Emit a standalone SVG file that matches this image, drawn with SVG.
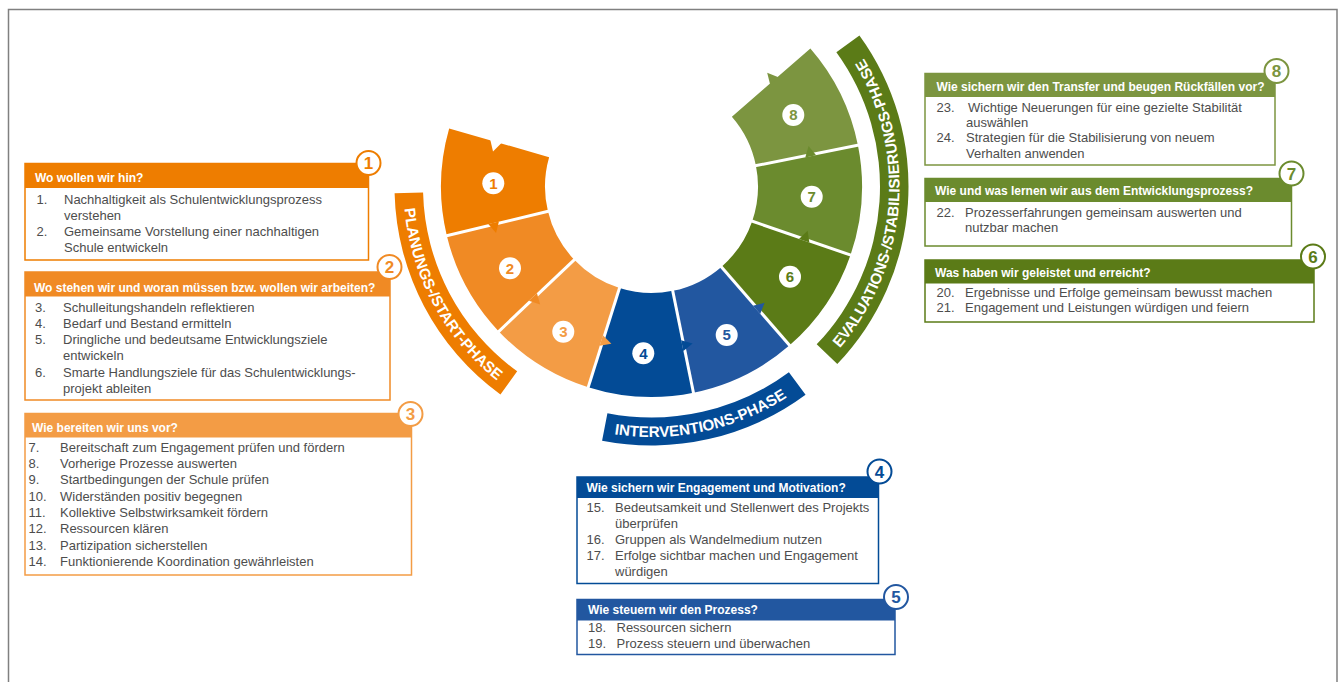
<svg xmlns="http://www.w3.org/2000/svg" width="1340" height="682" viewBox="0 0 1340 682">
  <style>
    .hd{font:bold 12px "Liberation Sans",Arial,sans-serif;fill:#fff}
    .tx{font:13px "Liberation Sans",Arial,sans-serif;fill:#4d4d4d}
    .box{fill:#fff;stroke-width:1.5}
    .badge{fill:#fff;stroke-width:2}
    .bn{font:bold 17px "Liberation Sans",Arial,sans-serif;text-anchor:middle}
    .sn{font:bold 15px "Liberation Sans",Arial,sans-serif;text-anchor:middle}
    .dot{fill:#fff}
    .ph{font:bold 15.2px "Liberation Sans",Arial,sans-serif;fill:#fff}
    .sep line{stroke:#fff;stroke-width:3}
    .c1{fill:#EE7D00}.c2{fill:#F08A24}.c3{fill:#F39C45}.c4{fill:#034B96}
    .c5{fill:#2257A0}.c6{fill:#5B7B17}.c7{fill:#6B8B2E}.c8{fill:#7C9540}
    .s1{stroke:#EE7D00}.s2{stroke:#F08A24}.s3{stroke:#F39C45}.s4{stroke:#034B96}
    .s5{stroke:#2257A0}.s6{stroke:#5B7B17}.s7{stroke:#6B8B2E}.s8{stroke:#7C9540}
  </style>
  <defs>
    <!-- arrow tab at a ring boundary, in a frame rotated to the boundary angle -->
    <polygon id="tab" points="156.5,1.6 167.5,1.6 162,-9"/>
    <path id="arcPlan" d="M403.61,179.14 A248,248 0 0 0 521.18,397.50"/>
    <path id="arcInt" d="M574.51,424.87 A250.5,250.5 0 0 0 819.39,372.41"/>
    <path id="arcEval" d="M827.63,361.09 A248,248 0 0 0 854.03,43.37"/>
  </defs>

  <rect width="1340" height="682" fill="#fff"/>
  <path d="M8.5,682 V9.5 H1337 V682" fill="none" stroke="#808080" stroke-width="1.5"/>

  <!-- phase bands -->
  <g id="phase-planung">
    <path class="c1" d="M394.59,193.23 A257,257 0 0 0 500.44,394.42 L517.19,371.36 A228.5,228.5 0 0 1 423.08,192.48 Z"/>
    <text class="ph" text-anchor="middle"><textPath href="#arcPlan" startOffset="50%">PLANUNGS-/START-PHASE</textPath></text>
  </g>
  <g id="phase-intervention">
    <path class="c4" d="M602.08,440.74 A259,259 0 0 0 805.56,394.70 L788.90,372.19 A231,231 0 0 1 607.42,413.26 Z"/>
    <text class="ph" text-anchor="middle"><textPath href="#arcInt" startOffset="50%">INTERVENTIONS-PHASE</textPath></text>
  </g>
  <g id="phase-evaluation">
    <path class="c6" d="M837.30,364.06 A257,257 0 0 0 859.42,35.44 L836.36,52.19 A228.5,228.5 0 0 1 816.70,344.37 Z"/>
    <text class="ph" text-anchor="middle"><textPath href="#arcEval" startOffset="50%">EVALUATIONS-/STABILISIERUNGS-PHASE</textPath></text>
  </g>

  <!-- ring segments -->
  <g id="seg1">
    <path class="c1" d="M449.15,128.48 A210.5,210.5 0 0 0 446.82,235.64 L547.94,211.36 A106.5,106.5 0 0 1 549.13,157.14 Z"/>
    <polygon fill="#fff" points="156,0.8 168,0.8 162,-10" transform="translate(651.5 186.5) rotate(196)"/>
    <circle class="dot" cx="493.3" cy="183.3" r="11"/>
    <text class="sn c1" x="493.3" y="188.6">1</text>
  </g>
  <g id="seg2">
    <path class="c2" d="M446.82,235.64 A210.5,210.5 0 0 0 498.81,331.40 L574.25,259.81 A106.5,106.5 0 0 1 547.94,211.36 Z"/>
    <circle class="dot" cx="510" cy="268.3" r="11"/>
    <text class="sn c2" x="510" y="273.6">2</text>
  </g>
  <g id="seg3">
    <path class="c3" d="M498.81,331.40 A210.5,210.5 0 0 0 588.20,387.26 L619.47,288.07 A106.5,106.5 0 0 1 574.25,259.81 Z"/>
    <circle class="dot" cx="563.3" cy="331.7" r="11"/>
    <text class="sn c3" x="563.3" y="337">3</text>
  </g>
  <g id="seg4">
    <path class="c4" d="M588.20,387.26 A210.5,210.5 0 0 0 693.47,392.77 L672.73,290.86 A106.5,106.5 0 0 1 619.47,288.07 Z"/>
    <circle class="dot" cx="643.3" cy="353.3" r="11"/>
    <text class="sn c4" x="643.3" y="358.6">4</text>
  </g>
  <g id="seg5">
    <path class="c5" d="M693.47,392.77 A210.5,210.5 0 0 0 789.60,345.37 L721.37,266.88 A106.5,106.5 0 0 1 672.73,290.86 Z"/>
    <circle class="dot" cx="726.7" cy="335" r="11"/>
    <text class="sn c5" x="726.7" y="340.3">5</text>
  </g>
  <g id="seg6">
    <path class="c6" d="M789.60,345.37 A210.5,210.5 0 0 0 850.53,255.03 L752.20,221.17 A106.5,106.5 0 0 1 721.37,266.88 Z"/>
    <circle class="dot" cx="790" cy="276.7" r="11"/>
    <text class="sn c6" x="790" y="282">6</text>
  </g>
  <g id="seg7">
    <path class="c7" d="M850.53,255.03 A210.5,210.5 0 0 0 857.92,145.25 L755.93,165.63 A106.5,106.5 0 0 1 752.20,221.17 Z"/>
    <circle class="dot" cx="811.7" cy="196.7" r="11"/>
    <text class="sn c7" x="811.7" y="202">7</text>
  </g>
  <g id="seg8">
    <path class="c8" d="M857.92,145.25 A210.5,210.5 0 0 0 810.37,48.40 L731.88,116.63 A106.5,106.5 0 0 1 755.93,165.63 Z"/>
    <circle class="dot" cx="793.3" cy="115" r="11"/>
    <text class="sn c8" x="793.3" y="120.3">8</text>
  </g>

  <!-- white gaps between segments -->
  <g class="sep" transform="translate(651.5 186.5)">
    <line x1="103" y1="0" x2="214" y2="0" transform="rotate(166.5)"/>
    <line x1="103" y1="0" x2="214" y2="0" transform="rotate(136.5)"/>
    <line x1="103" y1="0" x2="214" y2="0" transform="rotate(107.5)"/>
    <line x1="103" y1="0" x2="214" y2="0" transform="rotate(78.5)"/>
    <line x1="103" y1="0" x2="214" y2="0" transform="rotate(49)"/>
    <line x1="103" y1="0" x2="214" y2="0" transform="rotate(19)"/>
    <line x1="103" y1="0" x2="214" y2="0" transform="rotate(-11.3)"/>
  </g>

  <!-- flow arrows from each step into the next -->
  <g id="connectors" transform="translate(651.5 186.5)">
    <use href="#tab" class="c1" transform="rotate(166.5)"/>
    <use href="#tab" class="c2" transform="rotate(136.5)"/>
    <use href="#tab" class="c3" transform="rotate(107.5)"/>
    <use href="#tab" class="c4" transform="rotate(78.5)"/>
    <use href="#tab" class="c5" transform="rotate(49)"/>
    <use href="#tab" class="c6" transform="rotate(19)"/>
    <use href="#tab" class="c7" transform="rotate(-11.3)"/>
    <polygon class="c8" points="156.5,0.8 167.5,0.8 162,-10" transform="rotate(-41)"/>
  </g>

  <!-- question boxes -->
  <g id="box1">
    <rect class="box s1" x="25" y="163.5" width="343.5" height="96.5"/>
    <rect class="c1" x="25" y="163.5" width="343.5" height="24.5"/>
    <text class="hd" x="35" y="181.5">Wo wollen wir hin?</text>
    <text class="tx" x="36.5" y="203.5">1.</text><text class="tx" x="64" y="203.5">Nachhaltigkeit als Schulentwicklungsprozess</text>
    <text class="tx" x="64" y="219.5">verstehen</text>
    <text class="tx" x="36.5" y="235.5">2.</text><text class="tx" x="64" y="235.5">Gemeinsame Vorstellung einer nachhaltigen</text>
    <text class="tx" x="64" y="251.5">Schule entwickeln</text>
    <circle class="badge s1" cx="368.5" cy="163" r="12"/>
    <text class="bn c1" x="368.5" y="169">1</text>
  </g>

  <g id="box2">
    <rect class="box s2" x="25" y="272" width="365" height="128"/>
    <rect class="c2" x="25" y="272" width="365" height="24.5"/>
    <text class="hd" x="34" y="291.5">Wo stehen wir und woran müssen bzw. wollen wir arbeiten?</text>
    <text class="tx" x="35" y="311.5">3.</text><text class="tx" x="63" y="311.5">Schulleitungshandeln reflektieren</text>
    <text class="tx" x="35" y="327.7">4.</text><text class="tx" x="63" y="327.7">Bedarf und Bestand ermitteln</text>
    <text class="tx" x="35" y="344">5.</text><text class="tx" x="63" y="344">Dringliche und bedeutsame Entwicklungsziele</text>
    <text class="tx" x="63" y="360">entwickeln</text>
    <text class="tx" x="35" y="376.5">6.</text><text class="tx" x="63" y="376.5">Smarte Handlungsziele für das Schulentwicklungs-</text>
    <text class="tx" x="63" y="392.5">projekt ableiten</text>
    <circle class="badge s2" cx="389.5" cy="267" r="12"/>
    <text class="bn c2" x="389.5" y="273">2</text>
  </g>

  <g id="box3">
    <rect class="box s3" x="25" y="413.5" width="386.5" height="161.5"/>
    <rect class="c3" x="25" y="413.5" width="386.5" height="24"/>
    <text class="hd" x="32" y="431.5">Wie bereiten wir uns vor?</text>
    <text class="tx" x="28.5" y="451.7">7.</text><text class="tx" x="60" y="451.7">Bereitschaft zum Engagement prüfen und fördern</text>
    <text class="tx" x="28.5" y="468">8.</text><text class="tx" x="60" y="468">Vorherige Prozesse auswerten</text>
    <text class="tx" x="28.5" y="484.3">9.</text><text class="tx" x="60" y="484.3">Startbedingungen der Schule prüfen</text>
    <text class="tx" x="28.5" y="500.6">10.</text><text class="tx" x="60" y="500.6">Widerständen positiv begegnen</text>
    <text class="tx" x="28.5" y="516.9">11.</text><text class="tx" x="60" y="516.9">Kollektive Selbstwirksamkeit fördern</text>
    <text class="tx" x="28.5" y="533.2">12.</text><text class="tx" x="60" y="533.2">Ressourcen klären</text>
    <text class="tx" x="28.5" y="549.5">13.</text><text class="tx" x="60" y="549.5">Partizipation sicherstellen</text>
    <text class="tx" x="28.5" y="565.8">14.</text><text class="tx" x="60" y="565.8">Funktionierende Koordination gewährleisten</text>
    <circle class="badge s3" cx="410.5" cy="414" r="12"/>
    <text class="bn c3" x="410.5" y="420">3</text>
  </g>

  <g id="box4">
    <rect class="box s4" x="577" y="477" width="301.5" height="106.5"/>
    <rect class="c4" x="577" y="477" width="301.5" height="21"/>
    <text class="hd" x="586.5" y="491.5">Wie sichern wir Engagement und Motivation?</text>
    <text class="tx" x="586.5" y="511.7">15.</text><text class="tx" x="615" y="511.7">Bedeutsamkeit und Stellenwert des Projekts</text>
    <text class="tx" x="615" y="527.7">überprüfen</text>
    <text class="tx" x="586.5" y="543.5">16.</text><text class="tx" x="615" y="543.5">Gruppen als Wandelmedium nutzen</text>
    <text class="tx" x="586.5" y="559.5">17.</text><text class="tx" x="615" y="559.5">Erfolge sichtbar machen und Engagement</text>
    <text class="tx" x="615" y="575.5">würdigen</text>
    <circle class="badge s4" cx="879.5" cy="471.5" r="12"/>
    <text class="bn c4" x="879.5" y="477.5">4</text>
  </g>

  <g id="box5">
    <rect class="box s5" x="577" y="599.5" width="318" height="55"/>
    <rect class="c5" x="577" y="599.5" width="318" height="21"/>
    <text class="hd" x="588" y="614">Wie steuern wir den Prozess?</text>
    <text class="tx" x="588" y="631.7">18.</text><text class="tx" x="616.5" y="631.7">Ressourcen sichern</text>
    <text class="tx" x="588" y="647.7">19.</text><text class="tx" x="616.5" y="647.7">Prozess steuern und überwachen</text>
    <circle class="badge s5" cx="896" cy="597" r="12"/>
    <text class="bn c5" x="896" y="603">5</text>
  </g>

  <g id="box8">
    <rect class="box s8" x="925" y="73.5" width="350" height="91.5"/>
    <rect class="c8" x="925" y="73.5" width="350" height="23.5"/>
    <text class="hd" x="936.5" y="91">Wie sichern wir den Transfer und beugen Rückfällen vor?</text>
    <text class="tx" x="936.5" y="111.7">23.</text><text class="tx" x="968" y="111.7">Wichtige Neuerungen für eine gezielte Stabilität</text>
    <text class="tx" x="966" y="127">auswählen</text>
    <text class="tx" x="936.5" y="142.3">24.</text><text class="tx" x="966" y="142.3">Strategien für die Stabilisierung von neuem</text>
    <text class="tx" x="966" y="157.7">Verhalten anwenden</text>
    <circle class="badge s8" cx="1276.5" cy="71" r="12"/>
    <text class="bn c8" x="1276.5" y="77">8</text>
  </g>

  <g id="box7">
    <rect class="box s7" x="925" y="178.5" width="366.5" height="67.5"/>
    <rect class="c7" x="925" y="178.5" width="366.5" height="23.5"/>
    <text class="hd" x="935" y="195">Wie und was lernen wir aus dem Entwicklungsprozess?</text>
    <text class="tx" x="936.5" y="216.7">22.</text><text class="tx" x="965" y="216.7">Prozesserfahrungen gemeinsam auswerten und</text>
    <text class="tx" x="965" y="231.7">nutzbar machen</text>
    <circle class="badge s7" cx="1291.5" cy="173.5" r="12"/>
    <text class="bn c7" x="1291.5" y="179.5">7</text>
  </g>

  <g id="box6">
    <rect class="box s6" x="925" y="260" width="389" height="62"/>
    <rect class="c6" x="925" y="260" width="389" height="23.5"/>
    <text class="hd" x="935" y="277">Was haben wir geleistet und erreicht?</text>
    <text class="tx" x="936.5" y="296.7">20.</text><text class="tx" x="965" y="296.7">Ergebnisse und Erfolge gemeinsam bewusst machen</text>
    <text class="tx" x="936.5" y="311.7">21.</text><text class="tx" x="965" y="311.7">Engagement und Leistungen würdigen und feiern</text>
    <circle class="badge s6" cx="1313" cy="256.5" r="12"/>
    <text class="bn c6" x="1313" y="262.5">6</text>
  </g>
</svg>
